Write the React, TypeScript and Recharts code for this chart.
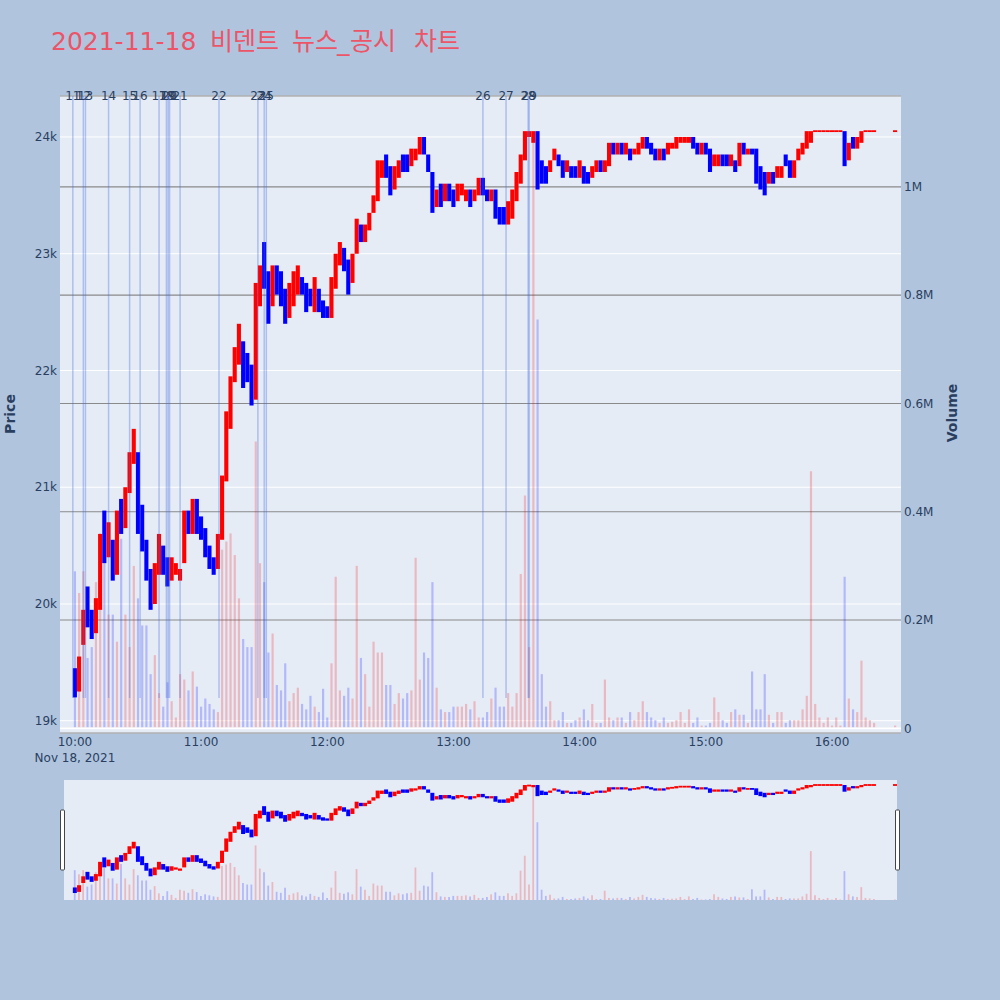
import React from 'react';
import { ComposedChart, Bar, XAxis, YAxis, CartesianGrid, ReferenceLine, Cell } from 'recharts';

// minutes after 10:00, one candle per 2 minutes
const minutes = [
  0, 2, 4, 6, 8, 10, 12, 14, 16, 18,
  20, 22, 24, 26, 28, 30, 32, 34, 36, 38,
  40, 42, 44, 46, 48, 50, 52, 54, 56, 58,
  60, 62, 64, 66, 68, 70, 72, 74, 76, 78,
  80, 82, 84, 86, 88, 90, 92, 94, 96, 98,
  100, 102, 104, 106, 108, 110, 112, 114, 116, 118,
  120, 122, 124, 126, 128, 130, 132, 134, 136, 138,
  140, 142, 144, 146, 148, 150, 152, 154, 156, 158,
  160, 162, 164, 166, 168, 170, 172, 174, 176, 178,
  180, 182, 184, 186, 188, 190, 192, 194, 196, 198,
  200, 202, 204, 206, 208, 210, 212, 214, 216, 218,
  220, 222, 224, 226, 228, 230, 232, 234, 236, 238,
  240, 242, 244, 246, 248, 250, 252, 254, 256, 258,
  260, 262, 264, 266, 268, 270, 272, 274, 276, 278,
  280, 282, 284, 286, 288, 290, 292, 294, 296, 298,
  300, 302, 304, 306, 308, 310, 312, 314, 316, 318,
  320, 322, 324, 326, 328, 330, 332, 334, 336, 338,
  340, 342, 344, 346, 348, 350, 352, 354, 356, 358,
  360, 362, 364, 366, 368, 370, 372, 374, 376, 378,
  380, 390,
];

const opens = [
  19450, 19250, 19650, 20150, 19950, 19750, 19950, 20800, 20400, 20550,
  20250, 20900, 20650, 20950, 21200, 21300, 20850, 20550, 20300, 20000,
  20250, 20500, 20400, 20200, 20250, 20200, 20350, 20800, 20600, 20900,
  20750, 20650, 20500, 20400, 20300, 20550, 21050, 21500, 21900, 22050,
  22250, 22150, 22050, 21750, 22550, 23100, 22850, 22550, 22900, 22850,
  22700, 22450, 22550, 22650, 22800, 22750, 22700, 22500, 22700, 22600,
  22550, 22450, 22700, 22900, 23050, 22950, 22750, 23000, 23250, 23100,
  23200, 23350, 23450, 23650, 23850, 23750, 23550, 23650, 23850, 23850,
  23750, 23800, 23850, 24000, 23850, 23700, 23400, 23600, 23450, 23600,
  23550, 23450, 23500, 23450, 23550, 23450, 23500, 23650, 23550, 23450,
  23550, 23400, 23400, 23250, 23300, 23450, 23600, 23800, 24000, 23950,
  24050, 23800, 23750, 23700, 23800, 23850, 23800, 23700, 23750, 23750,
  23650, 23750, 23700, 23650, 23700, 23800, 23700, 23750, 23950, 23850,
  23950, 23850, 23900, 23850, 23850, 23900, 24000, 23950, 23900, 23800,
  23900, 23850, 23900, 23900, 23950, 23950, 23950, 24000, 23950, 23850,
  23950, 23900, 23750, 23750, 23850, 23850, 23750, 23800, 23750, 23950,
  23850, 23900, 23900, 23750, 23700, 23600, 23700, 23650, 23650, 23850,
  23800, 23650, 23800, 23850, 23900, 23950, 24050, 24050, 24050, 24050,
  24050, 24050, 24050, 24050, 23800, 24000, 23900, 23950, 24050, 24050,
  24050, 24050,
];

const closes = [
  19200, 19550, 19950, 19800, 19700, 20050, 20600, 20350, 20700, 20200,
  20800, 20600, 21000, 21300, 21500, 20600, 20450, 20200, 19950, 20350,
  20600, 20250, 20150, 20400, 20350, 20300, 20800, 20600, 20900, 20600,
  20550, 20400, 20300, 20250, 20600, 21100, 21650, 21950, 22200, 22400,
  21850, 21900, 21700, 22750, 22900, 22700, 22400, 22900, 22650, 22550,
  22400, 22750, 22850, 22900, 22650, 22500, 22550, 22800, 22500, 22450,
  22450, 22800, 23000, 23100, 22850, 22650, 23000, 23300, 23100, 23250,
  23350, 23500, 23800, 23800, 23650, 23500, 23750, 23800, 23700, 23700,
  23900, 23900, 24000, 23850, 23700, 23350, 23550, 23400, 23600, 23450,
  23400, 23600, 23600, 23550, 23400, 23550, 23650, 23500, 23450, 23550,
  23300, 23250, 23250, 23450, 23550, 23700, 23850, 24050, 24050, 24050,
  23550, 23600, 23600, 23800, 23900, 23750, 23650, 23800, 23650, 23650,
  23800, 23600, 23600, 23750, 23800, 23700, 23800, 23950, 23850, 23950,
  23850, 23950, 23800, 23900, 23950, 24000, 23900, 23850, 23800, 23900,
  23800, 23950, 23950, 24000, 24000, 24000, 24000, 23900, 23850, 23950,
  23850, 23700, 23850, 23850, 23750, 23750, 23850, 23700, 23950, 23850,
  23900, 23850, 23600, 23550, 23500, 23700, 23600, 23750, 23750, 23750,
  23650, 23800, 23900, 23950, 24050, 24050, 24050, 24050, 24050, 24050,
  24050, 24050, 24050, 23750, 23950, 23900, 24000, 24050, 24050, 24050,
  24050, 24050,
];

const volumes = [
  290000, 250000, 290000, 130000, 150000, 270000, 360000, 310000, 210000, 210000,
  160000, 350000, 210000, 150000, 300000, 240000, 190000, 190000, 100000, 135000,
  65000, 40000, 85000, 50000, 20000, 100000, 90000, 70000, 105000, 77000,
  40000, 55000, 45000, 35000, 30000, 330000, 345000, 360000, 320000, 240000,
  165000, 150000, 150000, 530000, 305000, 270000, 140000, 175000, 80000, 70000,
  120000, 50000, 65000, 75000, 45000, 35000, 60000, 40000, 30000, 73000,
  20000, 120000, 280000, 70000, 60000, 75000, 55000, 300000, 130000, 100000,
  40000, 160000, 140000, 140000, 80000, 80000, 45000, 65000, 55000, 65000,
  70000, 315000, 90000, 140000, 130000, 270000, 75000, 35000, 30000, 30000,
  40000, 40000, 40000, 45000, 35000, 50000, 20000, 20000, 30000, 55000,
  75000, 40000, 40000, 65000, 40000, 65000, 285000, 430000, 150000, 1100000,
  755000, 100000, 40000, 50000, 15000, 15000, 30000, 10000, 10000, 15000,
  20000, 35000, 15000, 45000, 10000, 10000, 90000, 20000, 15000, 20000,
  20000, 10000, 30000, 15000, 30000, 50000, 30000, 20000, 15000, 10000,
  20000, 10000, 12000, 15000, 30000, 10000, 35000, 10000, 20000, 5000,
  5000, 10000, 57000, 30000, 15000, 10000, 30000, 35000, 25000, 25000,
  10000, 105000, 35000, 35000, 100000, 25000, 10000, 30000, 30000, 10000,
  15000, 15000, 15000, 35000, 60000, 475000, 45000, 20000, 10000, 20000,
  5000, 20000, 5000, 280000, 55000, 35000, 30000, 125000, 20000, 15000,
  10000, 5000,
];

// news / disclosure markers (minutes after 10:00)
const newsLabels = ['11', '12', '13', '14', '15', '16', '17', '18', '19', '20', '21', '22', '23', '24', '25', '26', '27', '28', '29'];
const newsMinutes = [-1, 4, 5, 16, 26, 31, 40, 43.5, 44.3, 45, 50, 68.5, 87, 90, 91, 194, 205, 215.5, 216];

const priceTicks = [19000, 20000, 21000, 22000, 23000, 24000];
const volumeTicks = [0, 200000, 400000, 600000, 800000, 1000000];
const timeTicks = [0, 60, 120, 180, 240, 300, 360];

const UP = '#ff0000';
const DOWN = '#0000ff';
const FONT = '"DejaVu Sans", Verdana, sans-serif';
const KFONT = '"Noto Sans CJK KR", "DejaVu Sans", sans-serif';
const INK = '#2a3f5f';
const X_DOMAIN = [-7.1, 392.8];

const rows = minutes.map((t, i) => ({
  t,
  o: opens[i],
  c: closes[i],
  v: volumes[i],
  up: closes[i] >= opens[i],
}));

const bodyRange = (r: any) => [Math.min(r.o, r.c), Math.max(r.o, r.c)];

const Candle = (props: any) => {
  const { x, y, width, height, payload } = props;
  if (x == null || y == null) return null;
  const h = Math.max(height || 0, 1.8);
  const top = y - (h - (height || 0)) / 2;
  return <rect x={x} y={top} width={width} height={h} fill={payload.up ? UP : DOWN} />;
};

const NewsMark = (props: any) => {
  const { x1, y1, y2, label } = props;
  if (x1 == null) return null;
  const top = Math.min(y1, y2);
  const bottom = Math.max(y1, y2);
  return (
    <g>
      <line x1={x1} x2={x1} y1={top} y2={top + (bottom - top) * 0.945} stroke="royalblue" strokeOpacity={0.35} strokeWidth={1.5} />
      <text x={x1} y={top} textAnchor="middle" dominantBaseline="central" fontSize={12} fill={INK} fontFamily={FONT}>
        {label}
      </text>
    </g>
  );
};

const fmtTime = (m: number) => {
  const h = 10 + Math.floor(m / 60);
  const mm = m % 60;
  return `${h}:${mm < 10 ? '0' : ''}${mm}`;
};

const TimeTick = (props: any) => {
  const { x, y, payload } = props;
  return (
    <text x={x} y={y} textAnchor="middle" fontSize={12} fill={INK} fontFamily={FONT}>
      <tspan x={x} dy="0.71em">{fmtTime(payload.value)}</tspan>
      {payload.value === 0 && <tspan x={x} dy="1.38em">Nov 18, 2021</tspan>}
    </text>
  );
};

const fmtPrice = (v: number) => `${v / 1000}k`;
const fmtVolume = (v: number) => (v === 0 ? '0' : v === 1000000 ? '1M' : `${v / 1000000}M`);

const tickStyle = { fill: INK, fontSize: 12, fontFamily: FONT };

export default function App() {
  return (
    <div style={{ position: 'fixed', left: 0, top: 0, width: 1000, height: 1000, background: '#b0c4de', overflow: 'hidden' }}>
      <div style={{ position: 'absolute', left: 0, top: 0 }}>
        <ComposedChart width={1000} height={780} data={rows} margin={{ top: 96, right: 0, bottom: 0, left: 0 }}>
          <CartesianGrid xAxisId="t" yAxisId="price" vertical={false} stroke="#ffffff" fill="#e5ecf6" fillOpacity={1} />
          <CartesianGrid xAxisId="t" yAxisId="vol" vertical={false} stroke="#8a8a8a" strokeWidth={1.2} />
          <XAxis
            xAxisId="t"
            dataKey="t"
            type="number"
            domain={X_DOMAIN}
            allowDataOverflow
            ticks={timeTicks}
            interval={0}
            height={47}
            tickSize={0}
            tickMargin={4}
            axisLine={false}
            tickLine={false}
            tick={<TimeTick />}
          />
          <XAxis xAxisId="vx" dataKey="t" type="number" domain={X_DOMAIN} allowDataOverflow hide />
          <YAxis
            yAxisId="price"
            orientation="left"
            width={60}
            domain={[18895, 24351]}
            allowDataOverflow
            ticks={priceTicks}
            interval={0}
            tickSize={0}
            tickMargin={3}
            axisLine={false}
            tickLine={false}
            tick={tickStyle}
            tickFormatter={fmtPrice}
          />
          <YAxis
            yAxisId="vol"
            orientation="right"
            width={99}
            domain={[-8700, 1168000]}
            allowDataOverflow
            ticks={volumeTicks}
            interval={0}
            tickSize={0}
            tickMargin={3}
            axisLine={false}
            tickLine={false}
            tick={tickStyle}
            tickFormatter={fmtVolume}
          />
          <ReferenceLine xAxisId="t" yAxisId="vol" y={0} stroke="#ffffff" strokeWidth={2} />
          {newsMinutes.map((m, i) => (
            <ReferenceLine
              key={`news-${i}`}
              xAxisId="t"
              yAxisId="price"
              x={m}
              ifOverflow="visible"
              shape={(p: any) => <NewsMark {...p} label={newsLabels[i]} />}
            />
          ))}
          <Bar xAxisId="vx" yAxisId="vol" dataKey="v" barSize={2.2} isAnimationActive={false}>
            {rows.map((r, i) => (
              <Cell key={`v-${i}`} fill={r.up ? UP : DOWN} fillOpacity={0.22} />
            ))}
          </Bar>
          <Bar xAxisId="t" yAxisId="price" dataKey={bodyRange} barSize={4.1} shape={<Candle />} isAnimationActive={false} />
        </ComposedChart>
      </div>

      {/* range slider */}
      <div style={{ position: 'absolute', left: 64, top: 780, width: 833, height: 120, background: '#e5ecf6' }} />
      <div style={{ position: 'absolute', left: 0, top: 780 }}>
        <ComposedChart width={1000} height={120} data={rows} margin={{ top: 0, right: 99, bottom: 0, left: 60 }}>
          <XAxis xAxisId="t" dataKey="t" type="number" domain={X_DOMAIN} allowDataOverflow hide />
          <XAxis xAxisId="vx" dataKey="t" type="number" domain={X_DOMAIN} allowDataOverflow hide />
          <YAxis yAxisId="price" domain={[18886, 24275]} allowDataOverflow hide />
          <YAxis yAxisId="vol" domain={[0, 1165000]} allowDataOverflow hide />
          <Bar xAxisId="vx" yAxisId="vol" dataKey="v" barSize={1.8} isAnimationActive={false}>
            {rows.map((r, i) => (
              <Cell key={`mv-${i}`} fill={r.up ? UP : DOWN} fillOpacity={0.22} />
            ))}
          </Bar>
          <Bar xAxisId="t" yAxisId="price" dataKey={bodyRange} barSize={4} shape={<Candle />} isAnimationActive={false} />
        </ComposedChart>
      </div>

      <svg width={1000} height={1000} style={{ position: 'absolute', left: 0, top: 0, pointerEvents: 'none' }}>
        <text y={50} fill="#ec5468" fontSize={25} fontFamily={FONT}>
          <tspan x={51}>2021-11-18</tspan>
          <tspan x={210} fontSize={25} fontFamily={KFONT}>비덴트</tspan>
          <tspan x={292} fontSize={25} fontFamily={KFONT}>뉴스</tspan>
          <tspan x={337}>_</tspan>
          <tspan x={350} fontSize={25} fontFamily={KFONT}>공시</tspan>
          <tspan x={414} fontSize={25} fontFamily={KFONT}>차트</tspan>
        </text>
        <text x={10} y={414} transform="rotate(-90 10 414)" textAnchor="middle" dominantBaseline="central" fontSize={14} fontWeight="bold" fill={INK} fontFamily={FONT}>
          Price
        </text>
        <text x={952} y={413} transform="rotate(-90 952 413)" textAnchor="middle" dominantBaseline="central" fontSize={14} fontWeight="bold" fill={INK} fontFamily={FONT}>
          Volume
        </text>
        <rect x={60.5} y={810} width={4} height={60} rx={1} fill="#ffffff" stroke="#444444" strokeWidth={1} />
        <rect x={895.5} y={810} width={4} height={60} rx={1} fill="#ffffff" stroke="#444444" strokeWidth={1} />
      </svg>
    </div>
  );
}
